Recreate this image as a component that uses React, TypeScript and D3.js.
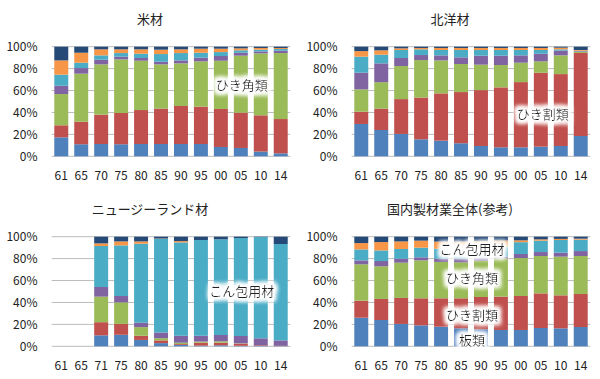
import React from "react";
import * as d3 from "d3";

// categories
const categoriesStd = ["61", "65", "70", "75", "80", "85", "90", "95", "00", "05", "10", "14"];
const categoriesNZ = ["61", "65", "71", "75", "80", "85", "90", "95", "00", "05", "10", "14"];
const yTicks = [0, 20, 40, 60, 80, 100];

// series order (bottom -> top): 板類, ひき割類, ひき角類, その他1, こん包用材, その他2, その他3
const seriesKeys = ["s1", "s2", "s3", "s4", "s5", "s6", "s7"];
const seriesColors = ["#4F81BD", "#C0504D", "#9BBB59", "#8064A2", "#4BACC6", "#F79646", "#254A78"];

// 米材
const beizai: number[][] = [
  [17.3, 11.0, 11.2, 11.0, 11.2, 11.2, 11.2, 11.2, 8.5, 7.6, 4.3, 2.7],
  [11.0, 20.6, 26.8, 28.5, 31.0, 32.3, 34.7, 34.1, 34.7, 32.2, 33.1, 31.3],
  [28.5, 43.8, 45.9, 48.9, 45.0, 40.4, 38.9, 41.3, 44.0, 52.0, 56.5, 60.2],
  [7.6, 5.1, 4.2, 2.5, 2.5, 2.4, 2.7, 3.4, 4.3, 2.7, 1.8, 2.2],
  [10.1, 4.9, 4.0, 3.3, 3.9, 7.0, 6.7, 4.5, 3.6, 2.2, 1.6, 1.5],
  [13.0, 9.1, 5.5, 3.4, 4.0, 4.0, 3.4, 3.7, 3.1, 1.8, 1.5, 0.9],
  [12.5, 5.5, 2.4, 2.4, 2.4, 2.7, 2.4, 1.8, 1.8, 1.5, 1.2, 1.2],
];

// 北洋材
const hokuyozai: number[][] = [
  [29.5, 24.0, 20.4, 15.5, 14.3, 11.9, 9.4, 8.2, 8.2, 8.8, 9.4, 18.5],
  [11.2, 19.5, 31.8, 38.1, 43.1, 46.7, 51.0, 54.7, 59.5, 67.4, 65.6, 75.8],
  [20.4, 24.1, 30.2, 34.2, 30.1, 25.6, 23.2, 20.4, 17.7, 10.4, 17.1, 0.9],
  [15.2, 17.2, 7.3, 4.6, 4.6, 6.1, 8.2, 8.5, 6.7, 7.0, 4.3, 0.6],
  [14.6, 7.9, 7.3, 5.2, 4.9, 6.7, 5.2, 5.2, 4.9, 3.4, 1.2, 0.5],
  [5.1, 4.0, 1.5, 1.2, 1.8, 1.8, 1.8, 1.8, 1.8, 1.8, 1.5, 0.7],
  [4.0, 3.3, 1.5, 1.2, 1.2, 1.2, 1.2, 1.2, 1.2, 1.2, 0.9, 3.0],
];

// ニュージーランド材
const nzzai: number[][] = [
  [0, 0, 10.0, 10.5, 5.8, 2.9, 1.2, 0.6, 0.9, 0.5, 0.3, 0.2],
  [0, 0, 12.0, 9.9, 3.8, 2.5, 0.8, 2.7, 2.4, 1.9, 0.6, 0.2],
  [0, 0, 23.3, 19.7, 7.9, 2.0, 1.3, 1.0, 1.3, 0.3, 0.0, 0.0],
  [0, 0, 8.8, 5.8, 4.0, 5.2, 6.3, 5.3, 5.7, 6.7, 6.4, 5.0],
  [0, 0, 37.4, 46.2, 72.1, 85.4, 85.2, 87.4, 87.3, 89.4, 92.4, 87.9],
  [0, 0, 2.4, 3.6, 2.1, 0.3, 1.2, 0.0, 0.0, 0.0, 0.0, 0.0],
  [0, 0, 6.1, 4.3, 4.3, 1.7, 4.0, 3.0, 2.4, 1.2, 0.3, 6.7],
];

// 国内製材業全体(参考)
const zentai: number[][] = [
  [26.1, 24.0, 20.4, 19.1, 17.9, 16.4, 15.5, 14.9, 14.9, 16.7, 16.4, 17.6],
  [15.5, 19.2, 23.7, 24.7, 25.9, 27.4, 29.5, 30.4, 31.0, 31.6, 30.1, 30.1],
  [33.2, 29.8, 32.2, 34.6, 33.2, 32.8, 33.1, 34.9, 34.6, 34.1, 35.3, 34.7],
  [3.6, 4.8, 3.6, 2.8, 3.0, 3.4, 2.8, 1.6, 3.7, 3.6, 3.7, 4.5],
  [10.0, 9.7, 8.9, 8.8, 9.0, 8.5, 9.1, 9.2, 10.8, 10.4, 11.5, 10.4],
  [5.8, 7.6, 6.9, 6.4, 6.5, 7.0, 6.0, 5.5, 1.7, 1.2, 1.0, 0.9],
  [5.8, 4.9, 4.3, 3.6, 4.5, 4.5, 4.0, 3.5, 3.3, 2.4, 2.0, 1.8],
];

type Label = { text: string; cat: number; value: number };

const panels = [
  { title: "米材", ox: 0, oy: 0, cats: categoriesStd, values: beizai,
    labels: [{ text: "ひき角類", cat: 9.05, value: 65 }] as Label[] },
  { title: "北洋材", ox: 300, oy: 0, cats: categoriesStd, values: hokuyozai,
    labels: [{ text: "ひき割類", cat: 9.1, value: 38.5 }] as Label[] },
  { title: "ニュージーランド材", ox: 0, oy: 190, cats: categoriesNZ, values: nzzai,
    labels: [{ text: "こん包用材", cat: 9.05, value: 50.5 }] as Label[] },
  { title: "国内製材業全体(参考)", ox: 300, oy: 190, cats: categoriesStd, values: zentai,
    labels: [
      { text: "こん包用材", cat: 5.55, value: 88.5 },
      { text: "ひき角類", cat: 5.55, value: 62 },
      { text: "ひき割類", cat: 5.55, value: 28 },
      { text: "板類", cat: 5.55, value: 5.5 },
    ] as Label[] },
];

const FONT = "'Noto Sans CJK JP', 'Noto Sans', sans-serif";

function Panel({ p }: { p: (typeof panels)[number] }) {
  const x = d3.scaleBand<string>().domain(p.cats).range([51.3, 290.7]).paddingInner(0.3).paddingOuter(0.15);
  const y = d3.scaleLinear().domain([0, 100]).range([156.3, 46.7]);
  const rows = p.cats.map((c, i) => {
    const r: any = { cat: c };
    seriesKeys.forEach((k, s) => (r[k] = p.values[s][i]));
    return r;
  });
  const stacked = d3.stack<any>().keys(seriesKeys)(rows);
  const step = x.step();
  const x0 = x(p.cats[0])! + x.bandwidth() / 2;
  return (
    <g transform={`translate(${p.ox},${p.oy})`}>
      <text x={150} y={19} dy="0.35em" textAnchor="middle" fontSize={13} fontFamily={FONT} fill="#222">
        {p.title}
      </text>
      {yTicks.map((t) => (
        <g key={t}>
          <line x1={51.7} x2={290.3} y1={y(t)} y2={y(t)} stroke="#bcbcbc" strokeWidth={1} />
          <text x={37.5} y={y(t)} dy="0.36em" textAnchor="end" fontSize={12} fontFamily={FONT} fill="#222">
            {t}%
          </text>
        </g>
      ))}
      {stacked.map((layer, s) => (
        <g key={layer.key} fill={seriesColors[s]}>
          {layer.map((d, i) =>
            d[1] - d[0] > 0 ? (
              <rect key={i} x={x(p.cats[i])} width={x.bandwidth()} y={y(d[1])} height={y(d[0]) - y(d[1])} />
            ) : null
          )}
        </g>
      ))}
      {p.cats.map((c) => (
        <text key={c} x={x(c)! + x.bandwidth() / 2} y={176} dy="0.35em" textAnchor="middle" fontSize={12} fontFamily={FONT} fill="#222">
          {c}
        </text>
      ))}
      {p.labels.map((l) => (
        <text key={l.text} x={x0 + l.cat * step} y={y(l.value)} dy="0.35em" textAnchor="middle" fontSize={13}
          fontFamily={FONT} fill="#222" filter="url(#glow)">
          {l.text}
        </text>
      ))}
    </g>
  );
}

export default function App() {
  return (
    <svg width={600} height={379} style={{ position: "absolute", left: 0, top: 0, background: "#fff" }}>
      <defs>
        <filter id="glow" x="-30%" y="-60%" width="160%" height="220%">
          <feMorphology in="SourceAlpha" operator="dilate" radius="3" result="d" />
          <feGaussianBlur in="d" stdDeviation="2" result="b" />
          <feFlood floodColor="#ffffff" />
          <feComposite in2="b" operator="in" result="w" />
          <feMerge>
            <feMergeNode in="w" />
            <feMergeNode in="w" />
            <feMergeNode in="SourceGraphic" />
          </feMerge>
        </filter>
      </defs>
      <rect width={600} height={379} fill="#fff" />
      {panels.map((p) => (
        <Panel key={p.title} p={p} />
      ))}
    </svg>
  );
}
